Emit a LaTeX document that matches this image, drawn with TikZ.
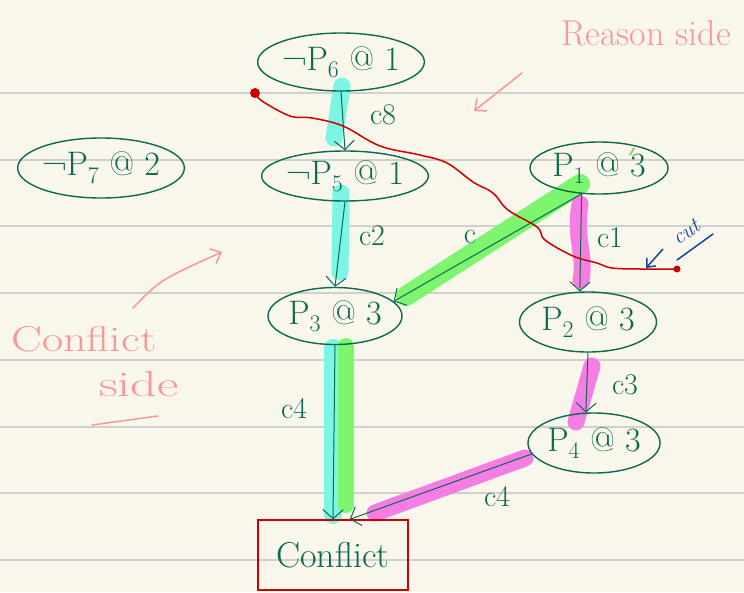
\documentclass[tikz,border=0pt]{standalone}
\usepackage{fontspec}
\usetikzlibrary{shapes.geometric,arrows.meta}
\definecolor{paper}{RGB}{249,247,235}
\definecolor{rulegray}{RGB}{208,208,208}
\definecolor{ink}{RGB}{10,105,80}
\definecolor{hlcyan}{RGB}{125,245,228}
\definecolor{hlgreen}{RGB}{125,245,110}
\definecolor{hlpink}{RGB}{245,125,228}
\definecolor{cutred}{RGB}{205,0,0}
\definecolor{note}{RGB}{250,150,150}
\definecolor{pen}{RGB}{20,70,155}
\definecolor{tick}{RGB}{140,200,60}
\newcommand{\lsub}[1]{\textsubscript{#1}}
\begin{document}
\begin{tikzpicture}[x=1pt,y=-1pt,
  lit/.style={shape=ellipse,draw=ink,line width=1.4pt,text=ink,inner sep=0pt,font=\fontsize{34}{38}\selectfont},
  edge/.style={draw=ink,line width=1pt,-{Straight Barb[length=9pt,width=20pt]}},
  hl/.style={line width=17pt,line cap=round},
  lbl/.style={text=ink,font=\fontsize{30}{34}\selectfont},
  notes/.style={text=note,font=\fontsize{36}{40}\selectfont},
  notepen/.style={draw=note,line width=1.5pt,line cap=round}]
\fill[paper] (0,0) rectangle (744,592);
\useasboundingbox (0,0) rectangle (744,592);
\foreach \yy in {93,160,226,293,360,427,493,560}
  \draw[rulegray,line width=1.2pt] (0,\yy) -- (744,\yy);
% highlights
\draw[hl,hlcyan] (342,86) -- (334,138);
\draw[hl,hlcyan] (341,193) -- (340,272);
\draw[hl,hlgreen,line width=20pt] (406,296) -- (580,184);
\draw[hl,hlpink] (580,204) .. controls (574,240) and (586,255) .. (581,280);
\draw[hl,hlpink] (592,366) -- (576,422);
\draw[hl,hlcyan,line width=18pt] (333,348) -- (333,515);
\draw[hl,hlgreen,line width=16pt] (346,346) -- (346,505);
\draw[hl,hlpink] (525,458) -- (375,513);
% nodes
\node[lit,minimum width=157pt,minimum height=58pt] (p6) at (341,62) {¬P\lsub{6} @ 1};
\node[lit,minimum width=156pt,minimum height=50pt] (p5) at (345,176) {¬P\lsub{5} @ 1};
\node[lit,minimum width=162pt,minimum height=60pt] (p7) at (101,168) {¬P\lsub{7} @ 2};
\node[lit,minimum width=138pt,minimum height=52pt] (p1) at (599,168) {P\lsub{1} @ 3};
\node[lit,minimum width=134pt,minimum height=57pt] (p3) at (335,316) {P\lsub{3} @ 3};
\node[lit,minimum width=137pt,minimum height=60pt] (p2) at (588,322) {P\lsub{2} @ 3};
\node[lit,minimum width=132pt,minimum height=60pt] (p4) at (594,443) {P\lsub{4} @ 3};
\node[draw=cutred,line width=1.3pt,text=ink,minimum width=150pt,minimum height=70pt,inner sep=0pt,font=\fontsize{36}{40}\selectfont] (conf) at (333,555) {Conflict};
\draw[tick,line width=1.5pt,line cap=round] (630,155) -- (634,148);
% edges
\draw[edge] (p6.south) -- (p5.north);
\draw[edge] (p5.south) -- (p3.north);
\draw[edge] (p1.236) -- (p3.14);
\draw[edge] (p1.236) -- (p2.105);
\draw[edge] (p2.south) -- (p4.105);
\draw[edge] (p3.south) -- (conf.north);
\draw[edge] (p4.190) -- (conf.65);
% edge labels
\node[lbl] (l8) at (383,115) {c8};
\node[lbl] (l2) at (372,236) {c2};
\node[lbl] (lg) at (470,237) {c};
\node[lbl] (l1) at (610,238) {c1};
\node[lbl] (l3) at (625,385) {c3};
\node[lbl] (l4a) at (294,409) {c4};
\node[lbl] (l4b) at (497,497) {c4};
% cut line
\draw[cutred,line width=1.5pt,line cap=round] plot[smooth,tension=0.6] coordinates {(255,93) (262,101) (290,116) (312,118) (343,126) (380,146) (420,155) (447,163) (473,182) (493,193) (508,210) (537,227) (545,240) (573,256) (597,263) (612,268) (640,269) (677,269)};
\fill[cutred] (255,93) circle (5);
\fill[cutred] (677,269) circle (3.5);
\node[text=pen,rotate=35,font=\fontsize{22}{24}\selectfont\itshape] (cut) at (686,232) {cut};
\draw[pen,line width=1.5pt,line cap=round] (677,260) -- (713,234);
\draw[pen,line width=1.5pt,-{Straight Barb[length=7pt,width=12pt]}] (663,249) -- (646,268);
% side notes
\node[notes] (reason) at (646,33) {Reason side};
\draw[notepen,-{Straight Barb[length=9pt,width=16pt]}] (522,73) -- (474,111);
\node[notes] (cside1) at (84,339) {\scalebox{1.28}[1]{Conflict}};
\node[notes] (cside2) at (139,384) {\scalebox{1.45}[1]{side}};
\draw[notepen] (92,425) -- (158,416);
\draw[notepen,-{Straight Barb[length=9pt,width=16pt]}] (133,308) .. controls (160,280) .. (222,252);
\end{tikzpicture}
\end{document}
